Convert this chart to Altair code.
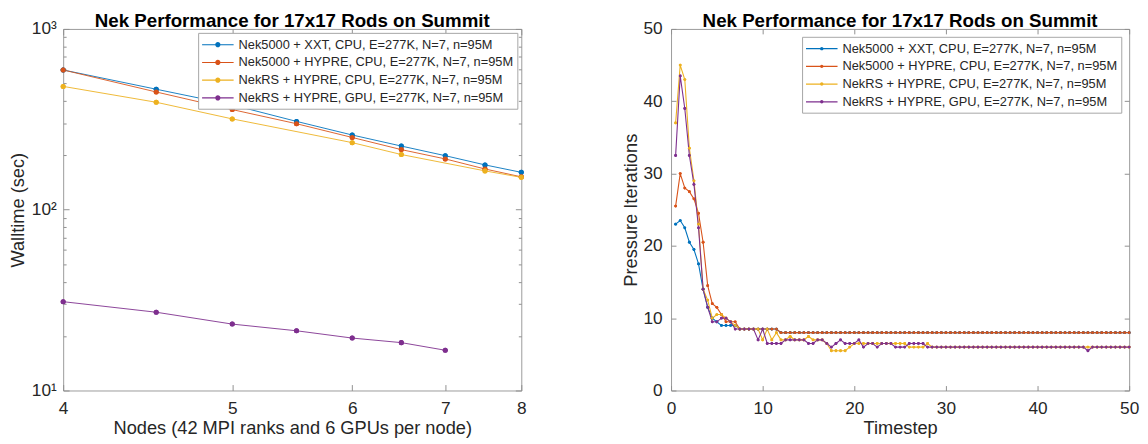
import altair as alt
import pandas as pd

FONT = "Liberation Sans"
TXT = "#262626"
AX = "#8f8f8f"
W, H = 465, 367

SERIES = [
    "Nek5000 + XXT, CPU, E=277K, N=7, n=95M",
    "Nek5000 + HYPRE, CPU, E=277K, N=7, n=95M",
    "NekRS + HYPRE, CPU, E=277K, N=7, n=95M",
    "NekRS + HYPRE, GPU, E=277K, N=7, n=95M",
]
COLORS = ["#0072BD", "#D95319", "#EDB120", "#7E2F8E"]
TITLE = "Nek Performance for 17x17 Rods on Summit"

# ---------------- left panel: walltime vs nodes ----------------
nodes_xxt = [4, 4.5, 5, 5.5, 6, 6.5, 7, 7.5, 8]
wall_xxt = [593, 464, 380, 308, 259, 225, 199, 177, 161]
nodes_hypre = [4, 4.5, 5, 5.5, 6, 6.5, 7, 7.5, 8]
wall_hypre = [593, 448, 358, 299, 251, 215, 191, 168, 152]
nodes_rs_cpu = [4, 4.5, 5, 6, 6.5, 7.5, 8]
wall_rs_cpu = [481, 393, 318, 235, 202, 164, 151]
nodes_rs_gpu = [4, 4.5, 5, 5.5, 6, 6.5, 7]
wall_rs_gpu = [31.0, 27.1, 23.3, 21.4, 19.5, 18.4, 16.7]

node_ticks = [4, 5, 6, 7, 8]
wall_major = [10, 100, 1000]
wall_minor = [20, 30, 40, 50, 60, 70, 80, 90, 200, 300, 400, 500, 600, 700, 800, 900]

# ---------------- right panel: pressure iterations vs timestep ----------------
timesteps = [
    0.5, 1.0, 1.5, 2.0, 2.5, 3.0, 3.5, 4.0, 4.5, 5.0, 5.5, 6.0, 6.5, 7.0, 7.5, 8.0, 8.5, 9.0, 9.5, 10.0,
    10.5, 11.0, 11.5, 12.0, 12.5, 13.0, 13.5, 14.0, 14.5, 15.0, 15.5, 16.0, 16.5, 17.0, 17.5, 18.0, 18.5, 19.0, 19.5, 20.0,
    20.5, 21.0, 21.5, 22.0, 22.5, 23.0, 23.5, 24.0, 24.5, 25.0, 25.5, 26.0, 26.5, 27.0, 27.5, 28.0, 28.5, 29.0, 29.5, 30.0,
    30.5, 31.0, 31.5, 32.0, 32.5, 33.0, 33.5, 34.0, 34.5, 35.0, 35.5, 36.0, 36.5, 37.0, 37.5, 38.0, 38.5, 39.0, 39.5, 40.0,
    40.5, 41.0, 41.5, 42.0, 42.5, 43.0, 43.5, 44.0, 44.5, 45.0, 45.5, 46.0, 46.5, 47.0, 47.5, 48.0, 48.5, 49.0, 49.5, 50.0,
]
iters_xxt = [
    23, 23.5, 22.5, 20.5, 19.5, 17.5, 14, 11.5, 10, 9.5, 9, 9, 9, 9, 8.5,
    8.5, 8.5, 8.5, 8.5, 8.5, 8.5, 8.5, 8.5,
    8, 8, 8, 8, 8, 8, 8, 8, 8, 8, 8, 8, 8, 8, 8, 8, 8, 8, 8, 8,
    8, 8, 8, 8, 8, 8, 8, 8, 8, 8, 8, 8, 8, 8, 8, 8, 8, 8, 8, 8,
    8, 8, 8, 8, 8, 8, 8, 8, 8, 8, 8, 8, 8, 8, 8, 8, 8, 8, 8, 8,
    8, 8, 8, 8, 8, 8, 8, 8, 8, 8, 8, 8, 8, 8, 8, 8, 8,
]
iters_hypre = [
    25.5, 30, 28, 27.5, 26.5, 24.5, 20.5, 14.5, 12, 11.5, 10.5, 9.5, 9.5, 9.5, 8.5,
    8.5, 8.5, 8.5, 8.5, 8.5, 8.5, 8.5, 8.5,
    8, 8, 8, 8, 8, 8, 8, 8, 8, 8, 8, 8, 8, 8, 8, 8, 8, 8, 8, 8,
    8, 8, 8, 8, 8, 8, 8, 8, 8, 8, 8, 8, 8, 8, 8, 8, 8, 8, 8, 8,
    8, 8, 8, 8, 8, 8, 8, 8, 8, 8, 8, 8, 8, 8, 8, 8, 8, 8, 8, 8,
    8, 8, 8, 8, 8, 8, 8, 8, 8, 8, 8, 8, 8, 8, 8, 8, 8,
]
iters_rs_cpu = [
    37, 45, 43, 33.5, 29, 23, 14, 12.5, 10, 10.5, 10.5, 10, 9.5, 9, 8.5,
    8.5, 8.5, 8.5, 8.5, 7, 8.5, 7, 8,
    7, 7, 7.5, 7, 7, 7, 7.5, 7, 7, 7, 6.5, 5.5, 5.5, 5.5, 5.5, 6, 6.5, 6.5, 6.5, 6.5,
    6.5, 6.5, 6.5, 6.5, 6.5, 6.5, 6.5, 6.5, 6, 6, 6, 6, 6.5, 6,
    6, 6, 6, 6, 6, 6, 6, 6, 6, 6, 6, 6, 6, 6, 6, 6, 6, 6, 6, 6,
    6, 6, 6, 6, 6, 6, 6, 6, 6, 6, 6, 6, 6, 6, 6, 6, 6, 6, 6, 6, 6, 6, 6,
]
iters_rs_gpu = [
    32.5, 43.5, 39, 32.5, 28.5, 22.5, 14, 11.5, 9.5, 9.5, 10, 10, 9.5, 8.5, 8.5,
    8.5, 8.5, 8.5, 7, 8.5, 6.5, 6.5, 6.5,
    6.5, 7, 7, 7, 7, 7, 6.5, 6.5, 7, 7, 6.5, 6, 6.5, 7, 6.5, 6.5, 6.5, 7,
    6, 6.5, 6.5, 6, 6.5, 6.5, 6.5, 6, 6, 6, 6.5, 6.5, 6.5, 6.5, 6, 6,
    6, 6, 6, 6, 6, 6, 6, 6, 6, 6, 6, 6, 6, 6, 6, 6, 6, 6, 6, 6,
    6, 6, 6, 6, 6, 6, 6, 6, 6, 6, 6, 6, 6, 5.5, 6, 6, 6, 6, 6, 6, 6, 6, 6,
]
step_ticks = [0, 10, 20, 30, 40, 50]
iter_ticks = [0, 10, 20, 30, 40, 50]

# ---------------- tables ----------------
left_rows = []
for order, (s, xs, ys) in enumerate(zip(
        SERIES,
        [nodes_xxt, nodes_hypre, nodes_rs_cpu, nodes_rs_gpu],
        [wall_xxt, wall_hypre, wall_rs_cpu, wall_rs_gpu])):
    for x, y in zip(xs, ys):
        left_rows.append({"series": s, "order": order, "nodes": x, "walltime": y})
left_df = pd.DataFrame(left_rows)

right_rows = []
for order, (s, ys) in enumerate(zip(SERIES, [iters_xxt, iters_hypre, iters_rs_cpu, iters_rs_gpu])):
    for x, y in zip(timesteps, ys):
        right_rows.append({"series": s, "order": order, "timestep": x, "iters": y})
right_df = pd.DataFrame(right_rows)


# ---------------- helpers ----------------
def lab_axis(orient, values, title, label_pad, title_pad, label_expr=None):
    kw = dict(orient=orient, values=values, title=title, ticks=False, domain=False, grid=False,
              labelPadding=label_pad, titlePadding=title_pad, labelFont=FONT, labelFontSize=17.5,
              labelColor=TXT, titleFont=FONT, titleFontSize=18.5, titleFontWeight="normal",
              titleColor=TXT, labelFlush=False, labelOverlap=False)
    if label_expr is not None:
        kw["labelExpr"] = label_expr
    return alt.Axis(**kw)


def tick_axis(orient, values, offset, size):
    return alt.Axis(orient=orient, values=values, offset=offset, title=None, labels=False,
                    domain=False, grid=False, ticks=True, tickSize=size, tickColor=AX, tickWidth=1)


def legend(path, offset):
    return alt.Legend(title=None, orient="top-right", offset=offset, symbolType=path, symbolSize=256,
                      symbolOffset=8, symbolStrokeWidth=0, labelOffset=13, labelFont=FONT,
                      labelFontSize=13, labelColor=TXT, strokeColor="#a6a6a6", fillColor="white",
                      padding=4, rowPadding=3, labelLimit=400, symbolOpacity=1)


PATH_L = "M-2,-0.07H2V0.07H-2Z M0.33,0A0.33,0.33,0,1,1,-0.33,0A0.33,0.33,0,1,1,0.33,0Z"
PATH_R = "M-2,-0.07H2V0.07H-2Z M0.22,0A0.22,0.22,0,1,1,-0.22,0A0.22,0.22,0,1,1,0.22,0Z"

title_params = alt.TitleParams(text=TITLE, font=FONT, fontSize=19, fontWeight="bold",
                               color="black", offset=-11, anchor="middle")

cs = alt.Scale(domain=SERIES, range=COLORS)

# ---------------- left chart ----------------
u_ticks = [n - 2 for n in node_ticks]
xs_left = alt.Scale(type="log", domain=[u_ticks[0], u_ticks[-1]], nice=False)
ys_left = alt.Scale(type="log", domain=[wall_major[0], wall_major[-1]], nice=False)
sup = "datum.value == 1000 ? '10\u00b3' : datum.value == 100 ? '10\u00b2' : datum.value == 10 ? '10\u00b9' : ''"

lbase = alt.Chart(left_df).transform_calculate(u="datum.nodes - 2")

L0 = lbase.mark_point(filled=True, size=26, opacity=1).encode(
    x=alt.X("u:Q", scale=xs_left, axis=tick_axis("top", u_ticks, -H, 6)),
    y=alt.Y("walltime:Q", scale=ys_left, axis=tick_axis("right", wall_major, -W, 6)),
    color=alt.Color("series:N", scale=cs, legend=legend(PATH_L, 4)),
    order="order:Q",
)
L1 = lbase.mark_line(strokeWidth=0.9).encode(
    x=alt.X("u:Q", scale=xs_left,
            axis=lab_axis("bottom", u_ticks, "Nodes (42 MPI ranks and 6 GPUs per node)", 9, 2,
                          "'' + (datum.value + 2)")),
    y=alt.Y("walltime:Q", scale=ys_left,
            axis=lab_axis("left", wall_major, "Walltime (sec)", 7, 4, sup)),
    color=alt.Color("series:N", scale=cs, legend=None),
    order="order:Q",
)
L2 = lbase.mark_point(filled=True, size=26, opacity=1).encode(
    x=alt.X("u:Q", scale=xs_left, axis=tick_axis("bottom", u_ticks, -H, 6)),
    y=alt.Y("walltime:Q", scale=ys_left, axis=tick_axis("left", wall_major, -W, 6)),
    color=alt.Color("series:N", scale=cs, legend=None),
    order="order:Q",
)
L3 = lbase.mark_point(opacity=0).encode(
    x=alt.X("u:Q", scale=xs_left, axis=None),
    y=alt.Y("walltime:Q", scale=ys_left, axis=tick_axis("right", wall_minor, -W, 3)),
)
L4 = lbase.mark_point(opacity=0).encode(
    x=alt.X("u:Q", scale=xs_left, axis=None),
    y=alt.Y("walltime:Q", scale=ys_left, axis=tick_axis("left", wall_minor, -W, 3)),
)
left = alt.layer(L0, L1, L2, L3, L4).resolve_axis(x="independent", y="independent").properties(
    width=W, height=H, title=title_params)

# ---------------- right chart ----------------
xs_right = alt.Scale(domain=[step_ticks[0], step_ticks[-1]], nice=False)
ys_right = alt.Scale(domain=[iter_ticks[0], iter_ticks[-1]], nice=False)
rbase = alt.Chart(right_df)

R0 = rbase.mark_point(filled=True, size=8, opacity=1).encode(
    x=alt.X("timestep:Q", scale=xs_right, axis=tick_axis("top", step_ticks, -H, 5)),
    y=alt.Y("iters:Q", scale=ys_right, axis=tick_axis("right", iter_ticks, -W, 5)),
    color=alt.Color("series:N", scale=cs, legend=legend(PATH_R, 8)),
    order="order:Q",
)
R1 = rbase.mark_line(strokeWidth=1.1).encode(
    x=alt.X("timestep:Q", scale=xs_right, axis=lab_axis("bottom", step_ticks, "Timestep", 9, 2)),
    y=alt.Y("iters:Q", scale=ys_right, axis=lab_axis("left", iter_ticks, "Pressure Iterations", 9, 3)),
    color=alt.Color("series:N", scale=cs, legend=None),
    order="order:Q",
)
R2 = rbase.mark_point(filled=True, size=8, opacity=1).encode(
    x=alt.X("timestep:Q", scale=xs_right, axis=tick_axis("bottom", step_ticks, -H, 5)),
    y=alt.Y("iters:Q", scale=ys_right, axis=tick_axis("left", iter_ticks, -W, 5)),
    color=alt.Color("series:N", scale=cs, legend=None),
    order="order:Q",
)
right = alt.layer(R0, R1, R2).resolve_axis(x="independent", y="independent").properties(
    width=W, height=H, title=title_params)

chart = alt.hconcat(left, right, spacing=95, padding=0, background="white").resolve_scale(
    color="independent").resolve_legend(color="independent").configure_view(
    stroke="#9a9a9a", strokeWidth=1)

chart.save("out.html", embed_options={"renderer": "svg", "actions": False})
